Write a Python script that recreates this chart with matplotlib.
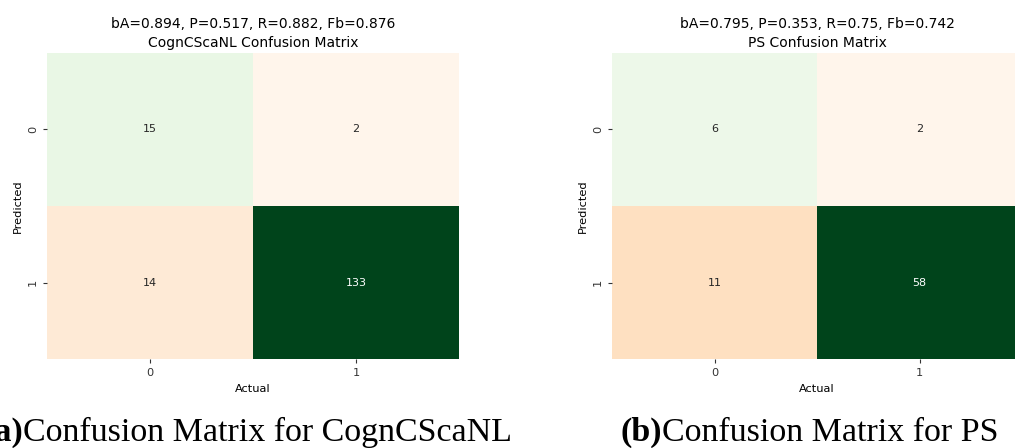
import numpy as np
import matplotlib
matplotlib.use('Agg')
import matplotlib.pyplot as plt
import seaborn as sns

# confusion matrices (rows = predicted, cols = actual)
cm_cogn = np.array([[15, 2],
                    [14, 133]])
cm_ps = np.array([[6, 2],
                  [11, 58]])
names = ['CognCScaNL', 'PS']
metrics = ['bA=0.894, P=0.517, R=0.882, Fb=0.876',
           'bA=0.795, P=0.353, R=0.75, Fb=0.742']
tick_labels = ['0', '1']
captions = ['Confusion Matrix for CognCScaNL', 'Confusion Matrix for PS']
caption_tags = ['(a)', '(b)']

W, H = 1015, 448
fig = plt.figure(figsize=(W / 100, H / 100), dpi=100)

ax_left = fig.add_axes([47 / W, 89 / H, 412 / W, 306 / H])
ax_right = fig.add_axes([612 / W, 89 / H, 410 / W, 306 / H])

diag = np.eye(2, dtype=bool)

for ax, cm, name, met in zip([ax_left, ax_right], [cm_cogn, cm_ps], names, metrics):
    vmin, vmax = cm.min(), cm.max()
    sns.heatmap(cm, mask=~diag, cmap='Greens', vmin=vmin, vmax=vmax, annot=True, fmt='d',
                cbar=False, ax=ax, annot_kws={'fontsize': 8})
    sns.heatmap(cm, mask=diag, cmap='Oranges', vmin=vmin, vmax=vmax, annot=True, fmt='d',
                cbar=False, ax=ax, annot_kws={'fontsize': 8})
    ax.set_title(met + '\n' + name + ' Confusion Matrix', fontsize=10, pad=4.5,
                 linespacing=1.45)
    ax.set_xlabel('Actual', fontsize=8.2)
    ax.set_ylabel('Predicted', fontsize=8.2)
    ax.set_xticklabels(tick_labels, fontsize=8.2)
    ax.set_yticklabels(tick_labels, fontsize=8.2, rotation=90, va='center')
    ax.tick_params(length=3, width=0.8, colors='#333333', labelcolor='#333333')

# subfigure captions, bold tag + regular text on one baseline
serif = 'Liberation Serif'
fs_cap = 24.5
base_y = 1 - 441 / H
fig.canvas.draw()
r = fig.canvas.get_renderer()

# (a): right end fixed, the tag runs off the left edge as in the source
rest_a = fig.text(512 / W, base_y, captions[0], fontsize=fs_cap, family=serif,
                  ha='right', va='baseline')
bb = rest_a.get_window_extent(renderer=r)
fig.text(bb.x0 / W, base_y, caption_tags[0], fontsize=fs_cap, family=serif,
         weight='bold', ha='right', va='baseline')

# (b): left end fixed
tag_b = fig.text(620 / W, base_y, caption_tags[1], fontsize=fs_cap, family=serif,
                 weight='bold', ha='left', va='baseline')
bb = tag_b.get_window_extent(renderer=r)
fig.text(bb.x1 / W, base_y, captions[1], fontsize=fs_cap, family=serif,
         ha='left', va='baseline')

fig.savefig('out.png', dpi=100)
